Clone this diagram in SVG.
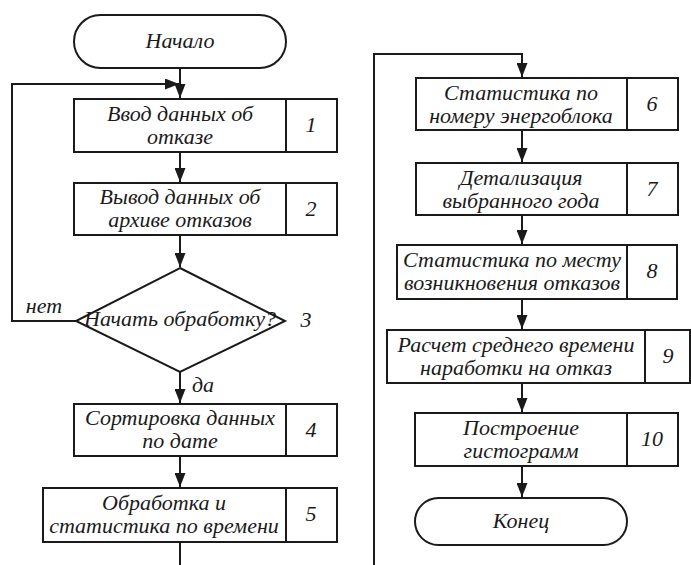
<svg xmlns="http://www.w3.org/2000/svg" width="691" height="565" viewBox="0 0 691 565">
<style>
.b{fill:#fff;stroke:#1a1a1a;stroke-width:2}
.c{fill:none;stroke:#1a1a1a;stroke-width:2}
text{font-family:"Liberation Serif","Times New Roman",serif;font-style:italic;font-size:22px;fill:#1a1a1a;text-anchor:middle}
</style>
<defs>
<marker id="a" markerUnits="userSpaceOnUse" markerWidth="15" markerHeight="11" refX="14" refY="5.5" orient="auto">
<path d="M0,0 L14,5.5 L0,11 Z" fill="#1a1a1a"/>
</marker>
</defs>
<g id="connectors">
<path class="c" d="M180,68 V98" marker-end="url(#a)"/>
<path class="c" d="M76,321 H12 V84 H179" marker-end="url(#a)"/>
<path class="c" d="M180,152 V182" marker-end="url(#a)"/>
<path class="c" d="M180,235 V267" marker-end="url(#a)"/>
<path class="c" d="M180,372 V403" marker-end="url(#a)"/>
<path class="c" d="M180,456 V487" marker-end="url(#a)"/>
<path class="c" d="M180,542 V565"/>
<path class="c" d="M374,565 V54 H522 V77" marker-end="url(#a)"/>
<path class="c" d="M522,130 V162" marker-end="url(#a)"/>
<path class="c" d="M522,215 V244" marker-end="url(#a)"/>
<path class="c" d="M522,299 V329" marker-end="url(#a)"/>
<path class="c" d="M522,383 V412" marker-end="url(#a)"/>
<path class="c" d="M522,466 V497" marker-end="url(#a)"/>
<text x="44" y="313">нет</text>
<text x="203" y="392">да</text>
</g>
<g id="start">
<rect class="b" x="74" y="15" width="212" height="53" rx="26.5"/>
<text x="180" y="48">Начало</text>
</g>
<g id="n1">
<rect class="b" x="74" y="99" width="263" height="53"/>
<line class="c" x1="286" y1="99" x2="286" y2="152"/>
<text x="180" y="121">Ввод данных об</text>
<text x="180" y="144">отказе</text>
<text x="311" y="132">1</text>
</g>
<g id="n2">
<rect class="b" x="74" y="183" width="263" height="52"/>
<line class="c" x1="286" y1="183" x2="286" y2="235"/>
<text x="180" y="204">Вывод данных об</text>
<text x="180" y="227">архиве отказов</text>
<text x="311" y="216">2</text>
</g>
<g id="n3">
<path class="b" d="M180,268 L285,321 L180,372 L76,321 Z"/>
<text x="180" y="326">Начать обработку?</text>
<text x="306" y="327">3</text>
</g>
<g id="n4">
<rect class="b" x="74" y="404" width="263" height="52"/>
<line class="c" x1="286" y1="404" x2="286" y2="456"/>
<text x="180" y="425">Сортировка данных</text>
<text x="180" y="448">по дате</text>
<text x="311" y="437">4</text>
</g>
<g id="n5">
<rect class="b" x="43" y="488" width="294" height="54"/>
<line class="c" x1="286" y1="488" x2="286" y2="542"/>
<text x="164" y="510">Обработка и</text>
<text x="164" y="533">статистика по времени</text>
<text x="311" y="521">5</text>
</g>
<g id="n6">
<rect class="b" x="416" y="78" width="262" height="52"/>
<line class="c" x1="627" y1="78" x2="627" y2="130"/>
<text x="521" y="100">Статистика по</text>
<text x="521" y="123">номеру энергоблока</text>
<text x="652" y="111">6</text>
</g>
<g id="n7">
<rect class="b" x="416" y="163" width="262" height="52"/>
<line class="c" x1="627" y1="163" x2="627" y2="215"/>
<text x="521" y="185">Детализация</text>
<text x="521" y="208">выбранного года</text>
<text x="652" y="196">7</text>
</g>
<g id="n8">
<rect class="b" x="397" y="245" width="280" height="54"/>
<line class="c" x1="627" y1="245" x2="627" y2="299"/>
<text x="512" y="267">Статистика по месту</text>
<text x="512" y="290">возникновения отказов</text>
<text x="652" y="278">8</text>
</g>
<g id="n9">
<rect class="b" x="387" y="330" width="303" height="53"/>
<line class="c" x1="645" y1="330" x2="645" y2="383"/>
<text x="516" y="352">Расчет среднего времени</text>
<text x="516" y="375">наработки на отказ</text>
<text x="668" y="363">9</text>
</g>
<g id="n10">
<rect class="b" x="415" y="413" width="263" height="53"/>
<line class="c" x1="627" y1="413" x2="627" y2="466"/>
<text x="521" y="435">Построение</text>
<text x="521" y="458">гистограмм</text>
<text x="652" y="446">10</text>
</g>
<g id="end">
<rect class="b" x="415" y="498" width="212" height="47" rx="23.5"/>
<text x="521" y="528">Конец</text>
</g>
</svg>
